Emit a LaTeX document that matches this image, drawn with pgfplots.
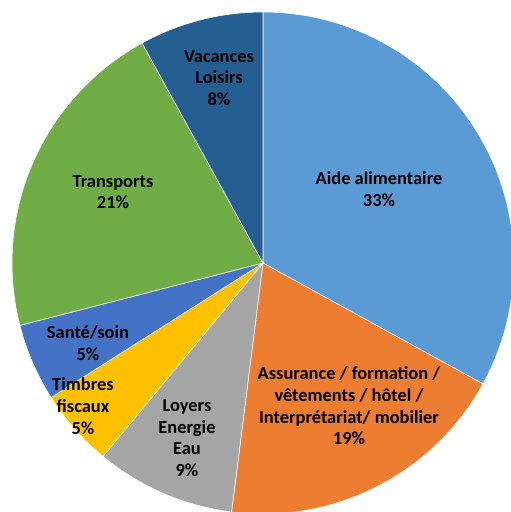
\documentclass[border=0pt]{standalone}
\usepackage{pgfplots}
\pgfplotsset{compat=1.18}
\usepackage{fontspec}
\setmainfont{Carlito}
\definecolor{cAide}{HTML}{5B9BD5}
\definecolor{cAss}{HTML}{ED7D31}
\definecolor{cLoy}{HTML}{A5A5A5}
\definecolor{cTim}{HTML}{FFC000}
\definecolor{cSan}{HTML}{4472C4}
\definecolor{cTra}{HTML}{70AD47}
\definecolor{cVac}{HTML}{255E91}
\tikzset{lab/.style={font=\fontsize{18.5}{21.8}\selectfont\bfseries, align=center, text=black}}
\begin{document}
\begin{tikzpicture}
\begin{axis}[hide axis, scale only axis, width=511bp, height=512bp,
  xmin=0, xmax=511, ymin=0, ymax=512, clip=true,
  every axis plot/.append style={draw=white, line width=0.6pt, samples=90, variable=\t}]
% shares in percent: Aide 33, Assurance 19, Loyers 9, Timbres 5, Santé 5, Transports 21, Vacances 8
% angles clockwise from top = cumulative percent * 3.6
\addplot[fill=cAide, domain=0:118.8]   ({263+251*sin(\t)},{249+251*cos(\t)}) -- (axis cs:263,249) -- cycle;
\addplot[fill=cAss,  domain=118.8:187.2] ({263+251*sin(\t)},{249+251*cos(\t)}) -- (axis cs:263,249) -- cycle;
\addplot[fill=cLoy,  domain=187.2:219.6] ({263+251*sin(\t)},{249+251*cos(\t)}) -- (axis cs:263,249) -- cycle;
\addplot[fill=cTim,  domain=219.6:237.6] ({263+251*sin(\t)},{249+251*cos(\t)}) -- (axis cs:263,249) -- cycle;
\addplot[fill=cSan,  domain=237.6:255.6] ({263+251*sin(\t)},{249+251*cos(\t)}) -- (axis cs:263,249) -- cycle;
\addplot[fill=cTra,  domain=255.6:331.2] ({263+251*sin(\t)},{249+251*cos(\t)}) -- (axis cs:263,249) -- cycle;
\addplot[fill=cVac,  domain=331.2:360]   ({263+251*sin(\t)},{249+251*cos(\t)}) -- (axis cs:263,249) -- cycle;
\node[lab] at (axis cs:379,323) {Aide alimentaire\\33\%};
\node[lab] at (axis cs:349,106) {Assurance / formation /\\vêtements / hôtel /\\Interprétariat/ mobilier\\19\%};
\node[lab] at (axis cs:187,74) {Loyers\\Energie\\Eau\\9\%};
\node[lab] at (axis cs:83,106) {Timbres\\fiscaux\\5\%};
\node[lab] at (axis cs:88,169) {Santé/soin\\5\%};
\node[lab] at (axis cs:113,320) {Transports\\21\%};
\node[lab] at (axis cs:219,434) {Vacances\\Loisirs\\8\%};
\end{axis}
\path (current axis.south west) rectangle (current axis.north east);
\end{tikzpicture}
\end{document}
